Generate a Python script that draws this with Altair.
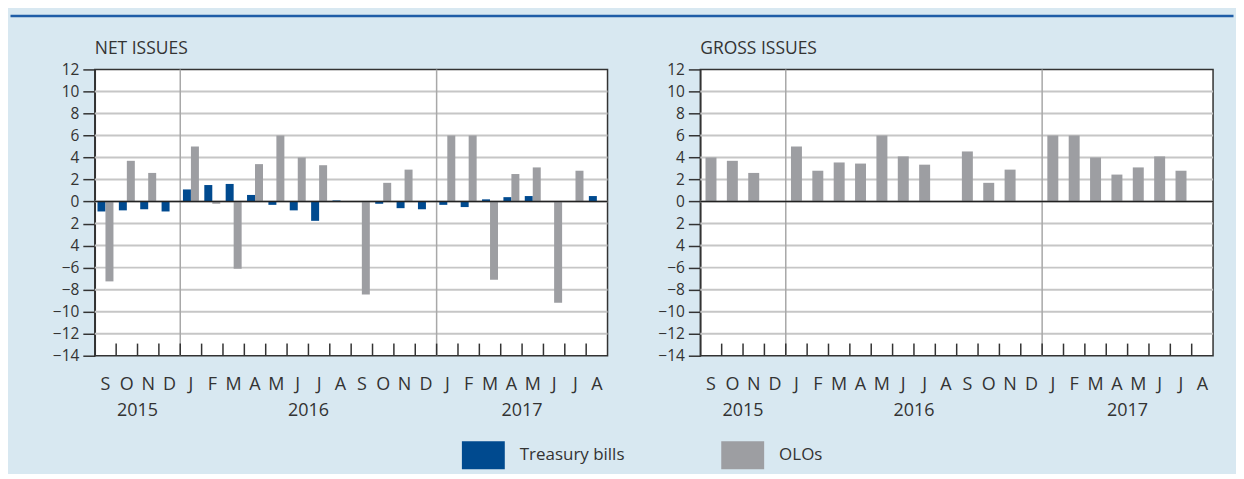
import json
import altair as alt
import pandas as pd

# ---------------- data ----------------
month_keys = ["2015-09", "2015-10", "2015-11", "2015-12",
              "2016-01", "2016-02", "2016-03", "2016-04", "2016-05", "2016-06",
              "2016-07", "2016-08", "2016-09", "2016-10", "2016-11", "2016-12",
              "2017-01", "2017-02", "2017-03", "2017-04", "2017-05", "2017-06",
              "2017-07", "2017-08"]
month_letters = ["S", "O", "N", "D", "J", "F", "M", "A", "M", "J", "J", "A",
                 "S", "O", "N", "D", "J", "F", "M", "A", "M", "J", "J", "A"]

tbills_net = [-0.9, -0.8, -0.7, -0.9, 1.1, 1.5, 1.6, 0.6, -0.3, -0.8, -1.75, 0.1,
              None, -0.2, -0.6, -0.7, -0.3, -0.5, 0.2, 0.4, 0.5, None, None, 0.5]
olos_net = [-7.25, 3.7, 2.6, None, 5.0, -0.2, -6.1, 3.4, 6.0, 4.0, 3.3, None,
            -8.45, 1.7, 2.9, None, 6.0, 6.0, -7.1, 2.5, 3.1, -9.2, 2.8, None]
olos_gross = [4.0, 3.7, 2.6, None, 5.0, 2.8, 3.55, 3.45, 6.0, 4.1, 3.35, None,
              4.55, 1.7, 2.9, None, 6.0, 6.0, 4.0, 2.45, 3.1, 4.1, 2.8, None]

year_labels = ["2015", "2016", "2017"]
year_label_months = ["2015-11", "2016-07", "2017-05"]
year_start_months = ["2016-01", "2017-01"]

ytick_values = [12, 10, 8, 6, 4, 2, 0, -2, -4, -6, -8, -10, -12, -14]
ytick_labels = ["12", "10", "8", "6", "4", "2", "0", "2", "4", "−6", "−8", "−10", "−12", "−14"]

series_names = ["Treasury bills", "OLOs"]
series_colors = ["#004a8f", "#9d9ea2"]
panel_titles = ["NET ISSUES", "GROSS ISSUES"]

# ---------------- style ----------------
FONT = "Open Sans"
TXT = "#333333"
BG = "#d8e8f1"
W, H = 514, 287

net_rows = []
for k, tb, ol in zip(month_keys, tbills_net, olos_net):
    if tb is not None:
        net_rows.append({"key": k, "series": series_names[0], "value": tb})
    if ol is not None:
        net_rows.append({"key": k, "series": series_names[1], "value": ol})
net_df = pd.DataFrame(net_rows)

gross_df = pd.DataFrame([{"key": k, "series": series_names[1], "value": v}
                         for k, v in zip(month_keys, olos_gross) if v is not None])

years_df = pd.DataFrame({"key": year_label_months, "label": year_labels})
sep_df = pd.DataFrame({"key": year_start_months})
tick_df = pd.DataFrame({"key": month_keys[1:]})
grid_df = pd.DataFrame({"v": ytick_values[1:-1]})

x_label_expr = f"{json.dumps(month_letters)}[indexof({json.dumps(month_keys)}, datum.value)]"
y_label_expr = (f"{json.dumps(ytick_labels, ensure_ascii=False)}"
                f"[indexof({json.dumps(ytick_values)}, datum.value)]")

xscale = alt.Scale(domain=month_keys, paddingInner=0, paddingOuter=0)
yscale = alt.Scale(domain=[-14, 12], nice=False, zero=True)

xaxis = alt.Axis(labelExpr=x_label_expr, labelFontSize=18, labelPadding=20, labelAngle=0,
                 labelOverlap=False, labelColor=TXT, domain=False, ticks=False, grid=False,
                 title=None, labelFont=FONT)
yaxis = alt.Axis(values=ytick_values, labelExpr=y_label_expr, labelFontSize=15.5, labelColor=TXT,
                 labelPadding=4, labelOverlap=False, labelBound=False, labelFlush=False,
                 domain=True, domainColor="#333333", domainWidth=1.5,
                 ticks=True, tickColor="#333333", tickWidth=1.5, tickSize=12, grid=False,
                 title=None, labelFont=FONT)

legend = alt.Legend(title=None, orient="none", legendX=368, legendY=365, direction="horizontal",
                    symbolType="M-1,-0.65L1,-0.65L1,0.65L-1,0.65Z", symbolSize=1849,
                    symbolStrokeWidth=0, symbolOpacity=1, labelFontSize=17, labelOffset=15,
                    columnPadding=96, labelColor=TXT, padding=0, labelFont=FONT)
color = alt.Color("series:N", scale=alt.Scale(domain=series_names, range=series_colors),
                  legend=legend)

X = lambda bp=None: (alt.X("key:O", scale=xscale, axis=xaxis) if bp is None
                     else alt.X("key:O", scale=xscale, axis=xaxis, bandPosition=bp))


def common_layers():
    grid = alt.Chart(grid_df).mark_rule(color="#c6c6c6", strokeWidth=2).encode(
        y=alt.Y("v:Q", scale=yscale, axis=yaxis))
    sep = alt.Chart(sep_df).mark_rule(color="#a8a8a8", strokeWidth=1.5).encode(x=X(0))
    return grid, sep


def decor_layers(title):
    zero = alt.Chart(alt.Data(values=[{}])).mark_rule(color="#222222", strokeWidth=1.5).encode(
        y=alt.datum(0, scale=yscale, axis=yaxis))
    ticks = alt.Chart(tick_df).mark_rule(color="#333333", strokeWidth=1.5).encode(
        x=X(0), y=alt.datum(-14, scale=yscale, axis=yaxis), y2=alt.datum(-12.9))
    years = alt.Chart(years_df).mark_text(fontSize=18, baseline="middle", align="center",
                                          color=TXT, font=FONT).encode(
        x=X(0), y=alt.value(342), text="label:N")
    ttl = alt.Chart(alt.Data(values=[{"t": title}])).mark_text(
        align="left", baseline="alphabetic", fontSize=17.5, color=TXT, font=FONT).encode(
        x=alt.value(0), y=alt.value(-15.5), text="t:N")
    return zero, ticks, years, ttl


view = alt.ViewBackground(fill="white", stroke="#333333", strokeWidth=1.5)

# NET panel
g1, s1 = common_layers()
net_bars = alt.Chart(net_df).mark_bar(strokeWidth=0).encode(
    x=X(),
    xOffset=alt.XOffset("series:N", scale=alt.Scale(domain=series_names, paddingInner=0,
                                                     paddingOuter=0.3375)),
    y=alt.Y("value:Q", scale=yscale, axis=yaxis),
    color=color)
z1, t1, y1, tt1 = decor_layers(panel_titles[0])
topline = alt.Chart(alt.Data(values=[{}])).mark_rule(color="#1f5da7", strokeWidth=2.5).encode(
    x=alt.value(-84.5), x2=alt.value(1141.5), y=alt.value(-53.5))
net = alt.layer(g1, s1, net_bars, z1, t1, y1, tt1, topline).properties(
    width=W, height=H, view=view)

# GROSS panel
g2, s2 = common_layers()
gross_bars = alt.Chart(gross_df).mark_bar(size=11, strokeWidth=0).encode(
    x=X(),
    y=alt.Y("value:Q", scale=yscale, axis=yaxis),
    color=color)
z2, t2, y2, tt2 = decor_layers(panel_titles[1])
gross = alt.layer(g2, s2, gross_bars, z2, t2, y2, tt2).properties(
    width=W, height=H, view=view)

chart = alt.hconcat(net, gross, spacing=93, bounds="flush").resolve_scale(
    color="shared").properties(
    background=BG,
    padding={"left": 0, "top": 5, "right": 0, "bottom": 4},
    autosize=alt.AutoSizeParams(type="pad"),
).configure(font=FONT).configure_axisY(labelOverlap=False, labelBound=False).configure_axis(
    labelOverlap=False)

chart.save("out.html", embed_options={"renderer": "svg", "actions": False})
